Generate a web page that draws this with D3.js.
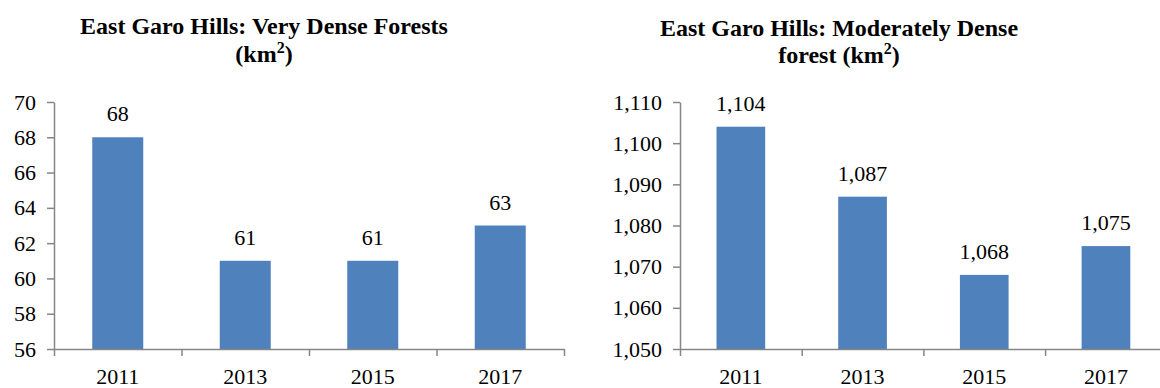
<!DOCTYPE html>
<html>
<head>
<meta charset="utf-8">
<script src="https://cdn.jsdelivr.net/npm/d3@7"></script>
<style>
  html, body { margin: 0; padding: 0; background: #fff; }
  svg { display: block; font-family: "Liberation Serif", "DejaVu Serif", serif; }
</style>
</head>
<body>
<svg id="chart" width="1160" height="388"></svg>
<script>
const years = ["2011", "2013", "2015", "2017"];
const veryDense = [68, 61, 61, 63];
const moderatelyDense = [1104, 1087, 1068, 1075];
const veryDenseTicks = [56, 58, 60, 62, 64, 66, 68, 70];
const moderatelyDenseTicks = [1050, 1060, 1070, 1080, 1090, 1100, 1110];

const svg = d3.select("#chart");
const barColor = "#4f81bd";
const axisColor = "#868686";
const labelSize = "22px";
const fmt = d3.format(",");

function drawPanel(opts) {
    const { values, ticks, x0, step, top, bottom, titleLines, titleX, titleY } = opts;
    const g = svg.append("g");
    const x1 = x0 + step * years.length;

    // categories: bar = 40% of step, centred
    const fx = d3.scaleBand()
        .domain(years)
        .range([x0, x1])
        .paddingInner(0.6)
        .paddingOuter(0.3);
    const edges = d3.scaleLinear().domain([0, years.length]).range([x0, x1]);

    const y = d3.scaleLinear()
        .domain([ticks[0], ticks[ticks.length - 1]])
        .range([bottom, top]);

    // bars
    g.append("g")
        .selectAll("rect")
        .data(values)
        .join("rect")
        .attr("x", (d, i) => fx(years[i]))
        .attr("y", d => y(d))
        .attr("width", fx.bandwidth())
        .attr("height", d => y(ticks[0]) - y(d))
        .attr("fill", barColor);

    // value labels
    g.append("g")
        .selectAll("text")
        .data(values)
        .join("text")
        .attr("x", (d, i) => fx(years[i]) + fx.bandwidth() / 2)
        .attr("y", d => y(d) - 16)
        .attr("text-anchor", "middle")
        .style("font-size", labelSize)
        .attr("fill", "#000")
        .text(d => fmt(d));

    // y axis
    const yAxis = g.append("g")
        .attr("transform", `translate(${x0},0)`)
        .call(d3.axisLeft(y).tickValues(ticks).tickFormat(fmt).tickSize(7).tickSizeOuter(0).tickPadding(11));
    yAxis.attr("font-family", null).attr("font-size", null);
    yAxis.select(".domain").attr("stroke", axisColor).attr("stroke-width", 1.5);
    yAxis.selectAll(".tick line").attr("stroke", axisColor).attr("stroke-width", 1.5);
    yAxis.selectAll(".tick text").style("font-size", labelSize).attr("fill", "#000");

    // x axis: ticks on category boundaries
    const xAxis = g.append("g")
        .attr("transform", `translate(0,${bottom})`)
        .call(d3.axisBottom(edges).tickValues(d3.range(years.length + 1)).tickFormat("").tickSize(7).tickSizeOuter(0));
    xAxis.select(".domain").attr("stroke", axisColor).attr("stroke-width", 1.5);
    xAxis.selectAll(".tick line").attr("stroke", axisColor).attr("stroke-width", 1.5);

    // x labels
    const xLabels = g.append("g")
        .attr("transform", `translate(0,${bottom})`)
        .call(d3.axisBottom(fx).tickSize(0).tickPadding(19));
    xLabels.select(".domain").remove();
    xLabels.attr("font-family", null).attr("font-size", null);
    xLabels.selectAll(".tick text").style("font-size", labelSize).attr("fill", "#000");

    // title, last line ends with superscript 2 and ")"
    const title = g.append("text")
        .attr("text-anchor", "middle")
        .style("font-size", "24px")
        .style("font-weight", "bold");
    titleLines.forEach((line, i) => {
        title.append("tspan")
            .attr("x", titleX)
            .attr("y", titleY[i])
            .text(line);
        if (i === titleLines.length - 1) {
            title.append("tspan").attr("dy", -9).style("font-size", "16px").text("2");
            title.append("tspan").attr("dy", 9).text(")");
        }
    });
}

drawPanel({
    values: veryDense,
    ticks: veryDenseTicks,
    x0: 54,
    step: 127.5,
    top: 102,
    bottom: 349,
    titleLines: ["East Garo Hills: Very Dense Forests", "(km"],
    titleX: 264,
    titleY: [34, 62]
});

drawPanel({
    values: moderatelyDense,
    ticks: moderatelyDenseTicks,
    x0: 680,
    step: 121.7,
    top: 102,
    bottom: 349,
    titleLines: ["East Garo Hills: Moderately Dense", "forest (km"],
    titleX: 839,
    titleY: [36, 63]
});
</script>
</body>
</html>
